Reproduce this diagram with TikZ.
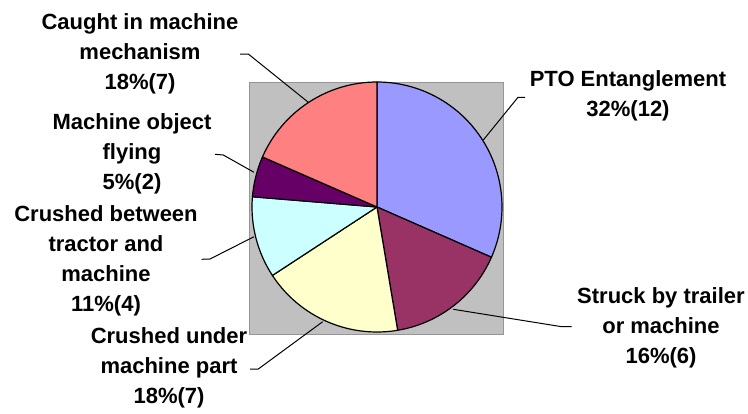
\documentclass[tikz,border=0pt]{standalone}
\usepackage{fontspec}
\setmainfont{Liberation Sans}
\usepackage{tikz}

\definecolor{ptoblue}{RGB}{153,153,255}
\definecolor{struckred}{RGB}{153,51,102}
\definecolor{underyellow}{RGB}{255,255,204}
\definecolor{betweencyan}{RGB}{204,255,255}
\definecolor{flyingpurple}{RGB}{102,0,102}
\definecolor{caughtsalmon}{RGB}{255,128,128}

\tikzset{
  slice/.style={draw=black, line width=1.2pt, line join=round},
  leader/.style={draw=black, line width=1pt},
  lbl/.style={inner sep=0pt, align=center, font=\fontsize{22}{30}\selectfont\bfseries},
}

\begin{document}
\begin{tikzpicture}[x=1pt,y=1pt,yscale=-1,xscale=1]
\useasboundingbox (0,0) rectangle (748,413);

%Shape: Rectangle [plot area]
\draw [draw={rgb, 255:red, 150; green, 150; blue, 150 }, fill={rgb, 255:red, 192; green, 192; blue, 192 }, line width=1pt] (249.5,82) rectangle (503,334) ;

\coordinate (pc) at (377,207);
%Pie: PTO Entanglement
\filldraw [slice, fill=ptoblue] (pc) -- ++(-90:125) arc [start angle=-90, end angle=23.7, radius=125pt] -- cycle ;
%Pie: Struck by trailer
\filldraw [slice, fill=struckred] (pc) -- ++(23.7:125) arc [start angle=23.7, end angle=80.5, radius=125pt] -- cycle ;
%Pie: Crushed under
\filldraw [slice, fill=underyellow] (pc) -- ++(80.5:125) arc [start angle=80.5, end angle=146.8, radius=125pt] -- cycle ;
%Pie: Crushed between
\filldraw [slice, fill=betweencyan] (pc) -- ++(146.8:125) arc [start angle=146.8, end angle=184.7, radius=125pt] -- cycle ;
%Pie: Machine object flying
\filldraw [slice, fill=flyingpurple] (pc) -- ++(184.7:125) arc [start angle=184.7, end angle=203.6, radius=125pt] -- cycle ;
%Pie: Caught in machine
\filldraw [slice, fill=caughtsalmon] (pc) -- ++(203.6:125) arc [start angle=203.6, end angle=270, radius=125pt] -- cycle ;

% Text Node
\node [lbl] (caught) at (140,53.5) {Caught in machine\\mechanism\\18\%(7)};
% Text Node
\node [lbl] (flying) at (132,154.3) {Machine object\\flying\\5\%(2)};
% Text Node
\node [lbl] (between) at (106,261) {Crushed between\\tractor and\\machine\\11\%(4)};
% Text Node
\node [lbl] (under) at (169,368) {Crushed under\\machine part\\18\%(7)};
% Text Node
\node [lbl] (pto) at (628,95.7) {PTO Entanglement\\32\%(12)};
% Text Node
\node [lbl] (struck) at (661,328) {Struck by trailer\\or machine\\16\%(6)};

%Leader ends
\coordinate (caughtA) at (240,54);
\coordinate (caughtB) at (248.3,54);
\coordinate (caughtC) at (308.3,102.3);
\coordinate (ptoA) at (525,97.3);
\coordinate (ptoB) at (518,97.3);
\coordinate (ptoC) at (483.3,140);
\coordinate (flyingA) at (215,154.3);
\coordinate (flyingB) at (223.3,155);
\coordinate (flyingC) at (254,172.3);
\coordinate (betweenA) at (201.7,259.3);
\coordinate (betweenB) at (210,259);
\coordinate (betweenC) at (254,236.7);
\coordinate (underA) at (250,369);
\coordinate (underB) at (258.3,369);
\coordinate (underC) at (322.7,321.7);
\coordinate (struckA) at (571.7,326.7);
\coordinate (struckB) at (561.7,326.7);
\coordinate (struckC) at (453.3,309.3);

%Straight Lines
\draw [leader] (caughtA) -- (caughtB) -- (caughtC) ;
\draw [leader] (ptoA) -- (ptoB) -- (ptoC) ;
\draw [leader] (flyingA) -- (flyingB) -- (flyingC) ;
\draw [leader] (betweenA) -- (betweenB) -- (betweenC) ;
\draw [leader] (underA) -- (underB) -- (underC) ;
\draw [leader] (struckA) -- (struckB) -- (struckC) ;

\end{tikzpicture}
\end{document}
